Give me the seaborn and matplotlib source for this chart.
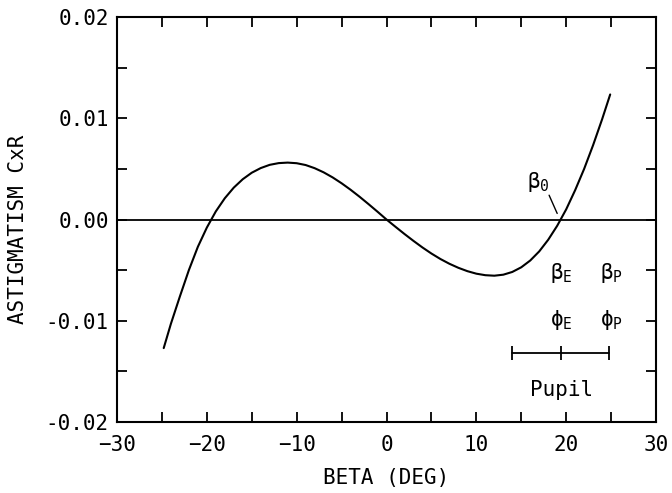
import matplotlib
matplotlib.use("Agg")
import matplotlib.pyplot as plt
import seaborn as sns
import pandas as pd
from matplotlib.ticker import MultipleLocator, FormatStrFormatter

# ---- data ----
beta = [-24.8, -24, -23, -22, -21, -20, -19, -18, -17, -16, -15, -14, -13, -12,
        -11, -10, -9, -8, -7, -6, -5, -4, -3, -2, -1, 0, 1, 2, 3, 4, 5, 6, 7, 8,
        9, 10, 11, 12, 13, 14, 15, 16, 17, 18, 19, 20, 21, 22, 23, 24, 24.9]
astig = [-0.0127, -0.0103, -0.0076, -0.0050, -0.0027, -0.0008, 0.0008, 0.0021,
         0.00315, 0.00398, 0.00462, 0.00508, 0.0054, 0.00557, 0.00562, 0.00556,
         0.00538, 0.00507, 0.00466, 0.00416, 0.00358, 0.00294, 0.00225,
         0.00152, 0.00077, 0.0,
         -0.00072, -0.00143, -0.00211, -0.00276, -0.00336, -0.00390, -0.00437,
         -0.00477, -0.00510, -0.00535, -0.00550, -0.00555, -0.00545, -0.00518,
         -0.00472, -0.00405, -0.00315, -0.00200, -0.00062, 0.00100, 0.00290,
         0.00500, 0.00735, 0.00990, 0.01235]

pupil_marks = [14.0, 19.4, 24.8]     # pupil bar end / centre / end (deg)
pupil_level = -0.0132

x_ticks = [-30, -20, -10, 0, 10, 20, 30]
y_ticks = [-0.02, -0.01, 0.00, 0.01, 0.02]

labels = {
    "b0": (r"$\mathregular{\beta_0}$", 16.9, 0.0037),
    "bE": (r"$\mathregular{\beta_E}$", 19.5, -0.0053),
    "bP": (r"$\mathregular{\beta_P}$", 25.0, -0.0053),
    "pE": (r"$\mathregular{\phi_E}$", 19.5, -0.0099),
    "pP": (r"$\mathregular{\phi_P}$", 25.0, -0.0099),
    "pupil": ("Pupil", 19.5, -0.0168),
}
leader = ([18.1, 19.0], [0.0024, 0.0006])

# ---- styling ----
sns.set_theme(style="ticks")
plt.rcParams["font.family"] = ["DejaVu Sans Mono", "DejaVu Sans"]
plt.rcParams["mathtext.fontset"] = "dejavusans"
plt.rcParams["text.color"] = "black"
plt.rcParams["axes.labelcolor"] = "black"

df = pd.DataFrame({"beta": beta, "astig": astig})

fig = plt.figure(figsize=(6.72, 4.93), dpi=100)
ax = fig.add_axes([0.1741, 0.1440, 0.8021, 0.8215])

sns.lineplot(data=df, x="beta", y="astig", ax=ax, color="black", linewidth=1.5,
             sort=False)
ax.axhline(0, color="black", linewidth=1.3)

# pupil bar
ax.plot([pupil_marks[0], pupil_marks[-1]], [pupil_level, pupil_level],
        color="black", linewidth=1.3)
ax.vlines(pupil_marks, pupil_level - 0.0007, pupil_level + 0.0007,
          color="black", linewidth=1.3)

ax.plot(leader[0], leader[1], color="black", linewidth=1.0)

for key, (txt, x, y) in labels.items():
    ax.text(x, y, txt, ha="center", va="center", fontsize=15, color="black")

ax.set_xlim(-30, 30)
ax.set_ylim(-0.02, 0.02)
ax.set_xticks(x_ticks)
ax.set_yticks(y_ticks)
ax.xaxis.set_minor_locator(MultipleLocator(5))
ax.yaxis.set_minor_locator(MultipleLocator(0.005))
ax.yaxis.set_major_formatter(FormatStrFormatter("%.2f"))
ax.tick_params(which="both", direction="in", top=True, right=True,
               length=7, width=1.3, color="black", labelcolor="black",
               labelsize=15)
ax.tick_params(axis="x", pad=9)
ax.tick_params(axis="y", pad=6)
for s in ax.spines.values():
    s.set_linewidth(1.5)
    s.set_color("black")

ax.set_xlabel("BETA (DEG)", fontsize=15, labelpad=10)
ax.set_ylabel("ASTIGMATISM CxR", fontsize=15)
ax.yaxis.set_label_coords(-0.165, 0.475)

fig.savefig("out.png", dpi=100, facecolor="white")
